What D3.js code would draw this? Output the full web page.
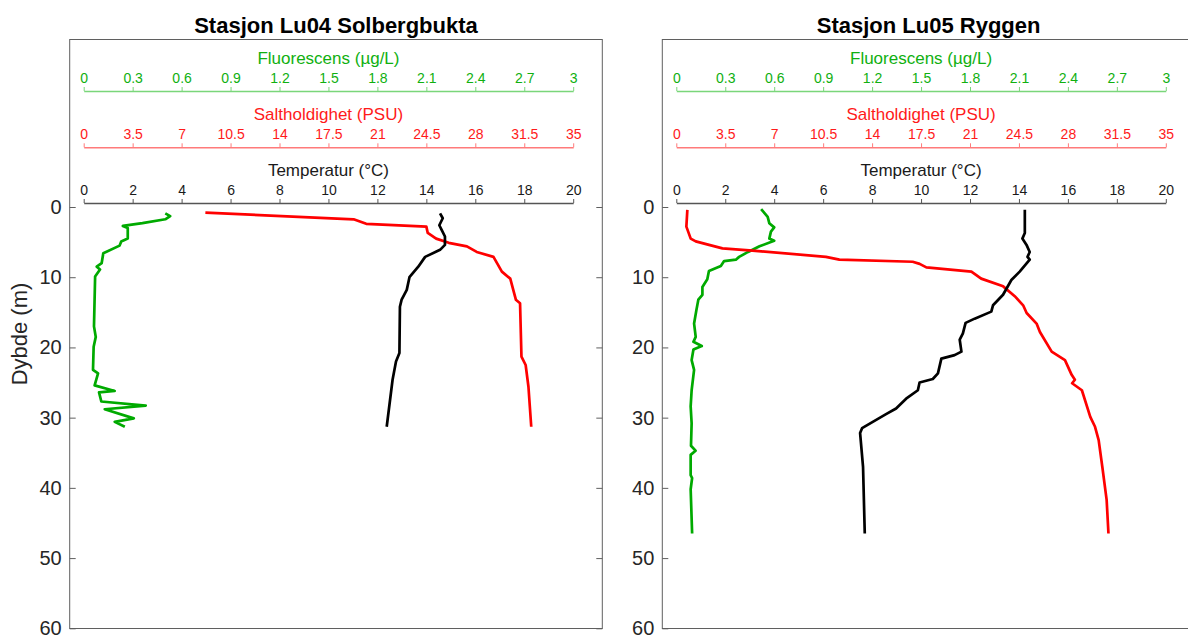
<!DOCTYPE html>
<html>
<head>
<meta charset="utf-8">
<script src="https://cdn.jsdelivr.net/npm/d3@7"></script>
<style>
  body { margin: 0; background: #fff; }
  svg { display: block; font-family: "Liberation Sans", Arial, sans-serif; }
</style>
</head>
<body>
<svg id="chart" width="1188" height="637"></svg>
<script>
// tick values
const depthTicks = [0, 10, 20, 30, 40, 50, 60];
const tempTicks = [0, 2, 4, 6, 8, 10, 12, 14, 16, 18, 20];
const saltTicks = [0, 3.5, 7, 10.5, 14, 17.5, 21, 24.5, 28, 31.5, 35];
const fluorTicks = [0, 0.3, 0.6, 0.9, 1.2, 1.5, 1.8, 2.1, 2.4, 2.7, 3];

// Lu04 Solbergbukta
const lu04SaltDepth = [0.8, 1.75, 2.4, 2.8, 3.7, 4.5, 5.1, 5.6, 6.4, 7.1, 9.2, 10.2, 13.2, 13.7, 21.3, 22.5, 25.6, 31.3];
const lu04Salt = [8.7, 19.3, 20.2, 24.5, 24.6, 25.2, 26.1, 27.4, 28.1, 29.3, 29.9, 30.5, 30.9, 31.2, 31.3, 31.6, 31.8, 32.0];
const lu04TempDepth = [0.9, 1.6, 2.6, 3.3, 4.2, 5.4, 6.1, 7.1, 8.5, 10.0, 11.8, 13.2, 14.2, 20.8, 22.0, 24.6, 31.3];
const lu04Temp = [14.56, 14.67, 14.53, 14.63, 14.76, 14.76, 14.56, 13.95, 13.67, 13.31, 13.2, 12.99, 12.92, 12.9, 12.76, 12.62, 12.38];
const lu04FluorDepth = [0.9, 1.3, 1.75, 2.3, 2.7, 3.0, 4.5, 4.9, 5.5, 6.6, 8.0, 8.5, 8.9, 9.9, 17.0, 18.5, 19.9, 23.2, 23.7, 25.4, 26.2, 26.4, 27.7, 28.3, 28.8, 30.1, 30.6, 31.3];
const lu04Fluor = [0.50, 0.53, 0.50, 0.36, 0.24, 0.27, 0.27, 0.23, 0.22, 0.12, 0.11, 0.08, 0.10, 0.07, 0.063, 0.074, 0.061, 0.057, 0.088, 0.067, 0.19, 0.094, 0.108, 0.38, 0.129, 0.307, 0.19, 0.252];

// Lu05 Ryggen
const lu05SaltDepth = [0.4, 2.8, 4.5, 4.9, 5.4, 5.9, 6.2, 7.1, 7.5, 7.8, 8.1, 8.6, 9.2, 10.2, 11.3, 12.7, 14.0, 15.1, 16.6, 17.8, 20.6, 21.8, 23.9, 24.6, 25.1, 26.1, 29.9, 31.3, 33.2, 37.0, 41.7, 46.5];
const lu05Salt = [0.79, 0.72, 1.03, 1.39, 2.34, 3.3, 5.45, 10.7, 11.66, 16.9, 17.4, 17.88, 21.1, 21.8, 23.37, 24.2, 24.8, 25.05, 25.76, 26.0, 26.84, 27.79, 28.27, 28.5, 28.3, 29.0, 29.6, 29.94, 30.2, 30.46, 30.77, 30.9];
const lu05TempDepth = [0.4, 3.7, 4.5, 5.4, 6.4, 7.1, 7.5, 9.2, 10.4, 12.5, 14.0, 14.9, 15.9, 16.5, 18.0, 18.9, 20.6, 21.1, 21.6, 23.7, 24.5, 25.0, 26.1, 27.3, 28.7, 29.5, 31.5, 32.2, 37.0, 46.5];
const lu05Temp = [14.24, 14.24, 14.14, 14.31, 14.44, 14.35, 14.44, 14.03, 13.69, 13.35, 12.94, 12.87, 12.19, 11.82, 11.71, 11.58, 11.65, 11.37, 10.83, 10.69, 10.48, 9.94, 9.87, 9.39, 8.98, 8.57, 7.59, 7.51, 7.63, 7.70];
const lu05FluorDepth = [0.3, 1.4, 2.3, 2.9, 3.5, 4.5, 4.8, 5.6, 6.4, 7.1, 7.5, 7.7, 8.4, 9.1, 10.3, 11.4, 12.5, 13.2, 14.7, 16.6, 18.5, 19.2, 19.8, 20.3, 21.8, 23.2, 26.1, 28.4, 30.8, 34.0, 34.7, 35.3, 38.2, 38.6, 40.2, 46.5];
const lu05Fluor = [0.52, 0.56, 0.57, 0.60, 0.58, 0.57, 0.60, 0.51, 0.44, 0.385, 0.365, 0.293, 0.273, 0.20, 0.19, 0.16, 0.16, 0.135, 0.123, 0.109, 0.119, 0.105, 0.156, 0.105, 0.094, 0.109, 0.094, 0.088, 0.094, 0.09, 0.118, 0.088, 0.088, 0.097, 0.088, 0.097];

const svg = d3.select('#chart');
const boxTop = 39.5, boxBottom = 628.5, boxW = 532.6;

let y = d3.scaleLinear().domain([0, 60]).range([207, 628.3]);

const colors = {
  temp: { line: '#000000', axis: '#555555', text: '#1a1a1a' },
  salt: { line: '#ff0000', axis: '#ff7a7a', text: '#ff1a1a' },
  fluor: { line: '#00aa00', axis: '#7ad67a', text: '#10b010' }
};

function topAxis(g, x, ticks, yPos, c, label) {
  let ax = g.append('g')
    .attr('transform', `translate(0,${yPos})`)
    .call(d3.axisTop(x).tickValues(ticks).tickSize(4).tickSizeOuter(0).tickPadding(4).tickFormat(d => String(d)));
  ax.select('.domain').attr('stroke', c.axis).attr('stroke-width', 1.4);
  ax.selectAll('.tick line').attr('stroke', c.axis).attr('stroke-width', 1);
  ax.selectAll('.tick text')
    .attr('fill', c.text)
    .attr('font-size', 14)
    .attr('font-family', '"Liberation Sans", Arial, sans-serif');
  g.append('text')
    .attr('x', (x.range()[0] + x.range()[1]) / 2)
    .attr('y', yPos - 27)
    .attr('text-anchor', 'middle')
    .attr('font-size', 17)
    .attr('fill', c.text)
    .text(label);
}

function drawPanel(left, title, series) {
  let g = svg.append('g');
  let right = left + boxW;

  g.append('rect')
    .attr('x', left).attr('y', boxTop)
    .attr('width', boxW).attr('height', boxBottom - boxTop)
    .attr('fill', 'none')
    .attr('stroke', '#5f5f5f')
    .attr('stroke-width', 1);

  let x0 = left + 14, x1 = left + 14 + 489.5;
  let xT = d3.scaleLinear().domain([0, 20]).range([x0, x1]);
  let xS = d3.scaleLinear().domain([0, 35]).range([x0, x1]);
  let xF = d3.scaleLinear().domain([0, 3]).range([x0, x1]);

  // depth axes, ticks pointing inward
  let yl = g.append('g')
    .attr('transform', `translate(${left},0)`)
    .call(d3.axisLeft(y).tickValues(depthTicks).tickSize(-6).tickPadding(8));
  yl.select('.domain').remove();
  yl.selectAll('.tick line').attr('stroke', '#5f5f5f');
  yl.selectAll('.tick text')
    .attr('fill', '#262626')
    .attr('font-size', 20)
    .attr('font-family', '"Liberation Sans", Arial, sans-serif');

  let yr = g.append('g')
    .attr('transform', `translate(${right},0)`)
    .call(d3.axisRight(y).tickValues(depthTicks).tickSize(-6).tickFormat(''));
  yr.select('.domain').remove();
  yr.selectAll('.tick line').attr('stroke', '#5f5f5f');

  topAxis(g, xF, fluorTicks, 91, colors.fluor, 'Fluorescens (µg/L)');
  topAxis(g, xS, saltTicks, 147.3, colors.salt, 'Saltholdighet (PSU)');
  topAxis(g, xT, tempTicks, 203, colors.temp, 'Temperatur (°C)');

  g.append('text')
    .attr('x', (left + right) / 2)
    .attr('y', 33)
    .attr('text-anchor', 'middle')
    .attr('font-size', 22)
    .attr('font-weight', 'bold')
    .attr('fill', '#000')
    .text(title);

  let addLine = (depths, vals, x, color) => {
    let line = d3.line()
      .x((d, i) => x(vals[i]))
      .y(d => y(d));
    g.append('path')
      .datum(depths)
      .attr('fill', 'none')
      .attr('stroke', color)
      .attr('stroke-width', 2.7)
      .attr('stroke-linejoin', 'round')
      .attr('stroke-linecap', 'butt')
      .attr('d', line);
  };
  addLine(series.fluorDepth, series.fluor, xF, colors.fluor.line);
  addLine(series.saltDepth, series.salt, xS, colors.salt.line);
  addLine(series.tempDepth, series.temp, xT, colors.temp.line);
}

drawPanel(69.7, 'Stasjon Lu04 Solbergbukta', {
  saltDepth: lu04SaltDepth, salt: lu04Salt,
  tempDepth: lu04TempDepth, temp: lu04Temp,
  fluorDepth: lu04FluorDepth, fluor: lu04Fluor
});
drawPanel(662.3, 'Stasjon Lu05 Ryggen', {
  saltDepth: lu05SaltDepth, salt: lu05Salt,
  tempDepth: lu05TempDepth, temp: lu05Temp,
  fluorDepth: lu05FluorDepth, fluor: lu05Fluor
});

svg.append('text')
  .attr('transform', `translate(27,${(boxTop + boxBottom) / 2}) rotate(-90)`)
  .attr('text-anchor', 'middle')
  .attr('font-size', 22)
  .attr('fill', '#262626')
  .text('Dybde (m)');
</script>
</body>
</html>
